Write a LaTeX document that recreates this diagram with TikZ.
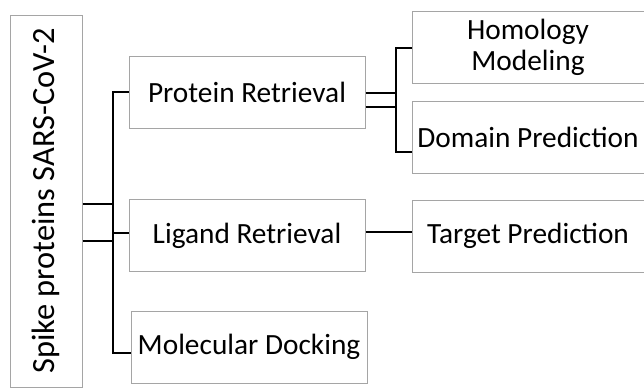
\documentclass[tikz,border=0pt]{standalone}
\usepackage{fontspec}
\setmainfont{Carlito}
\usepackage{graphicx}
\definecolor{boxgray}{RGB}{165,165,165}

\begin{document}
\begin{tikzpicture}[x=0.75pt, y=-0.75pt,
		box/.style={draw=boxgray, line width=0.75pt, minimum width=177pt, minimum height=54pt,
			align=center, inner sep=0pt, font=\fontsize{22}{23.5}\selectfont},
		link/.style={line width=1.5pt}]

	\useasboundingbox (0,0) rectangle (644,389);

	% --- RACINE ---
	\node[box, minimum width=54pt, minimum height=279pt, font=\fontsize{24.3}{28}\selectfont] (spike) at (46,201)
		{\rotatebox{90}{Spike proteins SARS-CoV-2}};

	% --- PREMIER NIVEAU ---
	\node[box] (protein) at (247,92) {Protein Retrieval};
	\node[box] (ligand) at (247,235.5) {Ligand Retrieval};
	\node[box] (docking) at (249,347) {Molecular Docking};

	% --- DEUXIÈME NIVEAU ---
	\node[box, minimum width=174pt] (homology) at (528,47.5) {Homology\\Modeling};
	\node[box, minimum width=174pt] (domain) at (528,137.5) {Domain Prediction};
	\node[box, minimum width=174pt] (target) at (528,236) {Target Prediction};

	% Tronc gauche
	\coordinate (j1) at (113,204);
	\coordinate (j2) at (113,241);
	\draw[link] (spike.east |- j1) -- (j1);
	\draw[link] (spike.east |- j2) -- (j2);
	\draw[link] (protein.west) -- ++(-16,0) coordinate (tr) |- ([yshift=-4.5pt]docking.west);
	\draw[link] ([yshift=2pt]ligand.west) -- ([yshift=2pt]ligand.west -| tr);

	% Tronc droit
	\coordinate (k1) at (396,93);
	\coordinate (k2) at (396,107);
	\draw[link] (protein.east |- k1) -- (k1);
	\draw[link] (protein.east |- k2) -- (k2);
	\draw[link] (homology.west) -- ++(-16,0) |- ([yshift=-10.5pt]domain.west);

	% Ligand -> cible
	\draw[link] ([yshift=3pt]ligand.east) -- ([yshift=3pt]ligand.east -| target.west);
\end{tikzpicture}
\end{document}
